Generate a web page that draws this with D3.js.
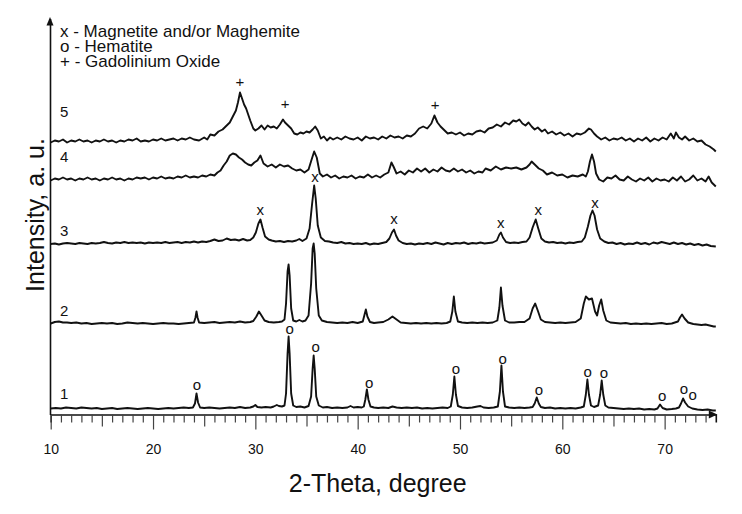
<!DOCTYPE html>
<html>
<head>
<meta charset="utf-8">
<script src="https://cdn.jsdelivr.net/npm/d3@7"></script>
<style>
  html, body { margin: 0; padding: 0; background: #fff; }
  svg { display: block; font-family: "Liberation Sans", Arial, Helvetica, sans-serif; }
</style>
</head>
<body>
<svg id="chart" width="742" height="514"></svg>
<script>
// ---------- data (2-Theta in degree, intensity in a.u. above each curve's own baseline) ----------
const sampleNames = ["1", "2", "3", "4", "5"];
const sampleOffsets = [6, 91, 171, 235, 272];

const sample1 = [[10,0],[10.5,0.5],[11,0],[11.5,1],[12,0.5],[12.5,0],[13,1],[13.5,0.5],[14,0],[14.5,0.5],[15,-0.5],[15.5,0],[16,0.5],[16.5,-0.5],[17,0],[17.5,0.5],[18,0],[18.5,-0.5],[19,0],[19.5,0.5],[20,0],[20.5,-0.5],[21,0],[21.5,0.5],[22,0],[22.5,0.5],[23,1],[23.5,0.5],[23.9,1],[24.1,5],[24.25,15],[24.4,6],[24.6,1],[25,0.5],[25.5,1],[26,0.5],[26.5,0],[27,0.5],[27.5,1],[28,0.5],[28.5,1.5],[29,0.5],[29.5,1],[29.8,2],[30,3.5],[30.2,1.5],[30.6,1],[31,1.5],[31.5,1],[31.8,2],[32.1,3.5],[32.3,2.5],[32.6,2],[32.85,3],[33.0,15],[33.15,55],[33.25,72],[33.35,55],[33.5,15],[33.7,3],[34.0,1.5],[34.4,2],[34.8,1],[35.2,2.5],[35.45,12],[35.6,40],[35.7,53],[35.8,40],[35.95,12],[36.2,3],[36.6,1],[37,1.5],[37.5,0.5],[38,1],[38.5,0.5],[39,1],[39.3,2.5],[39.6,1],[40,1.5],[40.4,1],[40.6,2],[40.75,9],[40.9,19],[41.05,9],[41.25,2],[41.6,1],[42,0.5],[42.5,1],[43,0.5],[43.4,2],[43.8,1],[44.3,0.5],[44.8,1],[45.3,0.5],[45.8,1],[46.3,0],[46.8,0.5],[47.3,0],[47.8,0.5],[48.3,1],[48.8,0.5],[49.1,2],[49.3,14],[49.45,32],[49.6,14],[49.8,2.5],[50.2,1],[50.7,0.5],[51.2,1],[51.7,2],[52,2.5],[52.3,1],[52.8,0.5],[53.3,1],[53.7,2],[53.9,17],[54.05,43],[54.2,17],[54.4,2],[54.8,1],[55.3,0.5],[55.8,1],[56.3,0.5],[56.8,1],[57.1,1.5],[57.3,5],[57.5,11],[57.7,5],[57.9,1.5],[58.3,0.5],[58.8,1],[59.3,0],[59.8,0.5],[60.3,0],[60.8,0.5],[61.3,0],[61.8,1],[62.1,2],[62.3,14],[62.45,29],[62.6,14],[62.8,3],[63.1,1.5],[63.5,3],[63.7,14],[63.85,28],[64.0,14],[64.2,3],[64.5,1],[65,0.5],[65.5,0],[66,-0.5],[66.5,0],[67,-0.5],[67.5,0],[68,-1],[68.5,-0.5],[69,-1],[69.3,0],[69.55,4],[69.8,0.5],[70.2,-1],[70.7,-0.5],[71.1,0],[71.4,1],[71.6,5],[71.8,10],[72.0,6],[72.3,2],[72.7,0],[73.2,-1],[73.7,-1.5],[74.2,-1],[74.7,-2],[75,-2]];

const sample2 = [[10,0],[10.4,1.5],[10.8,2],[11.2,1],[11.6,1],[12,0.5],[12.5,1],[13,0],[13.5,0.5],[14,-0.5],[14.5,0],[15,0.5],[15.5,0],[16,0.5],[16.5,-0.5],[17,0],[17.5,1],[18,0.5],[18.5,0],[19,0.5],[19.5,0],[20,-0.5],[20.5,0],[21,0.5],[21.5,0],[22,0],[22.5,-0.5],[23,0],[23.5,0.5],[24.0,1],[24.15,6],[24.25,12],[24.35,6],[24.5,1],[25,0.5],[25.5,1],[26,1.5],[26.5,0.5],[27,1],[27.5,1.5],[28,1],[28.5,2],[29,1],[29.5,1.5],[29.8,2.5],[30.1,7],[30.35,12],[30.6,8],[30.9,3],[31.3,1.5],[31.8,1],[32.3,1.5],[32.6,2],[32.85,4],[33.0,20],[33.15,52],[33.25,59],[33.35,48],[33.5,15],[33.7,3],[34.0,2],[34.3,3.5],[34.6,2],[34.9,3],[35.2,8],[35.45,40],[35.6,75],[35.7,80],[35.8,70],[35.95,35],[36.2,8],[36.5,3],[37,1.5],[37.5,1],[38,0.5],[38.5,1],[39,0.5],[39.5,1.5],[40,0.5],[40.5,2],[40.65,8],[40.8,14],[40.95,7],[41.2,1.5],[41.6,0.5],[42,1],[42.5,1.5],[43.0,4],[43.4,7],[43.8,4],[44.2,1],[44.7,0.5],[45.2,0],[45.7,0.5],[46.2,0],[46.7,0.5],[47.2,0],[47.7,0.5],[48.2,0],[48.7,0.5],[49.05,2],[49.25,12],[49.4,27],[49.55,12],[49.8,2],[50.2,1],[50.7,0.5],[51.2,1],[51.7,0.5],[52.2,1],[52.7,0.5],[53.2,1],[53.65,3],[53.85,16],[54.0,36],[54.15,18],[54.4,3],[54.8,1],[55.3,1],[55.8,1.5],[56.3,1.5],[56.8,5],[57.1,15],[57.35,20],[57.6,13],[57.9,4],[58.3,1.5],[58.8,1],[59.3,0.5],[59.8,1],[60.3,0.5],[60.8,1],[61.3,1.5],[61.8,5],[62.1,20],[62.3,27],[62.6,24],[62.9,25],[63.2,12],[63.4,8],[63.6,18],[63.8,24],[64.0,13],[64.3,3],[64.7,1],[65.2,0.5],[65.7,0],[66.2,0.5],[66.7,-0.5],[67.2,0],[67.7,-0.5],[68.2,0],[68.7,-0.5],[69.2,0],[69.7,0.5],[70.2,-0.5],[70.7,0],[71.0,1],[71.3,2],[71.5,6],[71.7,9],[71.95,5],[72.3,1],[72.8,-0.5],[73.2,-1],[73.6,-1.5],[74.0,-1],[74.4,-2],[74.8,-3],[75,-3]];

const sample3 = [[10,-0.5],[10.4,0],[10.8,-1],[11.2,0],[11.6,0.5],[12,0],[12.4,-0.5],[12.8,0.5],[13.2,0],[13.6,-0.5],[14,0.5],[14.4,0],[14.8,0.5],[15.2,1.5],[15.6,0.5],[16,0],[16.4,1],[16.8,0.5],[17.2,1.5],[17.6,0.5],[18,1],[18.4,0.5],[18.8,1],[19.2,0],[19.6,1],[20,0.5],[20.4,1],[20.8,0.5],[21.2,1.5],[21.6,0.5],[22,1],[22.4,1.5],[22.8,0.5],[23.2,1.5],[23.6,1],[24,2],[24.4,1],[24.8,2],[25.2,1.5],[25.6,2.5],[26,4],[26.4,2.5],[26.8,3],[27.2,5],[27.6,3.5],[28,4],[28.4,3],[28.8,4.5],[29.2,3],[29.5,3.5],[29.8,6],[30.05,11],[30.3,20],[30.5,24],[30.7,16],[30.95,7],[31.3,4],[31.6,3],[32,2],[32.4,2.5],[32.8,1.5],[33.2,2.5],[33.6,2],[34.0,3],[34.3,4.5],[34.6,2.5],[35.0,5],[35.3,15],[35.55,40],[35.75,58],[35.9,45],[36.1,18],[36.4,6],[36.8,2.5],[37.2,2],[37.6,1],[38.0,0.5],[38.4,1.5],[38.8,0],[39.2,0.5],[39.6,-0.5],[40,0],[40.4,-0.5],[40.8,0.5],[41.2,-1],[41.6,0],[42,-0.5],[42.4,0.5],[42.8,1.5],[43.1,5],[43.35,11],[43.55,14],[43.75,8],[44.0,3],[44.4,0.5],[44.8,-0.5],[45.2,0],[45.6,-1],[46,0],[46.4,-0.5],[46.8,0.5],[47.2,-0.5],[47.6,1],[48,0],[48.4,-1],[48.8,0.5],[49.2,-0.5],[49.6,0.5],[50,0],[50.4,1],[50.8,-0.5],[51.2,0.5],[51.6,0],[52,1],[52.4,0],[52.8,0.5],[53.2,1],[53.6,3],[53.85,9],[54.0,11],[54.2,6],[54.5,1.5],[54.9,0.5],[55.3,1],[55.7,0.5],[56.1,1.5],[56.5,2],[56.8,6],[57.1,16],[57.4,24],[57.65,15],[57.95,5],[58.3,2],[58.7,1],[59.1,1.5],[59.5,0.5],[59.9,1],[60.3,0],[60.7,1],[61.1,0.5],[61.5,1.5],[61.9,2],[62.2,6],[62.5,17],[62.75,28],[62.95,33],[63.15,28],[63.4,14],[63.7,5],[64.1,2],[64.5,0.5],[64.9,1],[65.3,-0.5],[65.7,0.5],[66.1,-1],[66.5,0],[66.9,-0.5],[67.3,1],[67.7,-0.5],[68.1,0.5],[68.5,-1],[68.9,1],[69.3,0],[69.7,1.5],[70.1,0.5],[70.5,-0.5],[70.9,1],[71.3,-0.5],[71.7,0.5],[72.1,-1],[72.5,0],[72.9,-1.5],[73.3,-0.5],[73.7,-2],[74.1,-1],[74.5,-2.5],[75,-3]];

const sample4 = [[10,-1],[10.4,1],[10.8,0],[11.2,2],[11.6,0],[12,1],[12.4,-1],[12.8,1],[13.2,0],[13.6,2],[14,0],[14.4,1],[14.8,-1],[15.2,1],[15.6,0],[16,2],[16.4,0],[16.8,1],[17.2,-1],[17.6,1],[18,0],[18.4,2],[18.8,1],[19.2,2],[19.6,0],[20,2],[20.4,1],[20.8,3],[21.2,1],[21.6,2],[22,1],[22.4,3],[22.8,2],[23.2,4],[23.6,2],[24,3],[24.4,2],[24.8,4],[25.2,3],[25.6,5],[26,4],[26.3,7],[26.6,9],[26.9,14],[27.2,18],[27.5,24],[27.8,26],[28.1,25],[28.4,22],[28.7,20],[29.0,17],[29.3,15],[29.6,14],[29.9,17],[30.2,19],[30.5,24],[30.8,16],[31.2,13],[31.6,15],[32,12],[32.4,15],[32.8,13],[33.2,14],[33.6,11],[34,9],[34.4,10],[34.8,7],[35.2,10],[35.5,20],[35.75,28],[36.0,22],[36.3,6],[36.6,3],[37,5],[37.4,2],[37.8,4],[38.2,1],[38.6,3],[39,2],[39.4,4],[39.8,1],[40.2,3],[40.6,2],[41,5],[41.4,2],[41.8,4],[42.2,2],[42.6,5],[43.0,7],[43.3,17],[43.5,13],[43.8,6],[44.2,8],[44.6,5],[45,9],[45.4,7],[45.8,11],[46.2,8],[46.6,11],[47,7],[47.4,10],[47.8,8],[48.2,12],[48.6,9],[49,8],[49.4,11],[49.8,8],[50.2,10],[50.6,7],[51,9],[51.4,6],[51.8,8],[52.2,7],[52.5,11],[53,9],[53.5,13],[54,10],[54.5,12],[55,11],[55.5,12],[56,10],[56.5,12],[56.8,15],[57.0,18],[57.3,15],[57.7,11],[58.1,9],[58.5,5],[59,7],[59.5,4],[60,5],[60.5,2],[61,4],[61.5,3],[62,5],[62.3,3],[62.5,8],[62.7,18],[62.9,25],[63.1,18],[63.3,6],[63.6,0],[64,-2],[64.4,2],[64.8,1],[65.2,4],[65.6,0],[66,-1],[66.4,3],[66.8,0],[67.2,-2],[67.6,1],[68,-1],[68.4,2],[68.8,-2],[69.2,1],[69.6,-1],[70,0],[70.4,-2],[70.8,2],[71.2,-1],[71.6,3],[72,-2],[72.4,0],[72.8,4],[73.2,-1],[73.6,1],[74,-2],[74.3,3],[74.6,-3],[75,-7]];

const sample5 = [[10,0],[10.4,2],[10.8,1],[11.2,3],[11.6,0],[12,2],[12.4,1],[12.8,3],[13.2,1],[13.6,2],[14,0],[14.4,2],[14.8,1],[15.2,3],[15.6,1],[16,2],[16.4,0],[16.8,2],[17.2,1],[17.6,3],[18,2],[18.4,4],[18.8,1],[19.2,2],[19.6,1],[20,3],[20.4,2],[20.8,4],[21.2,2],[21.6,3],[22,4],[22.4,2],[22.8,4],[23.2,3],[23.6,5],[24,3],[24.5,2],[25,5],[25.3,3],[25.6,8],[26,7],[26.4,11],[26.8,13],[27.2,17],[27.5,20],[27.8,26],[28.1,32],[28.3,40],[28.5,50],[28.7,44],[28.9,38],[29.1,34],[29.3,28],[29.5,22],[29.8,14],[30.0,12],[30.3,14],[30.6,17],[30.9,13],[31.2,17],[31.5,15],[31.8,16],[32.1,14],[32.4,18],[32.7,23],[32.9,20],[33.2,17],[33.5,14],[33.8,9],[34.1,8],[34.4,10],[34.7,9],[35.0,11],[35.3,10],[35.6,13],[35.85,16],[36.1,12],[36.4,4],[36.7,6],[37.0,2],[37.3,5],[37.6,3],[38.0,5],[38.4,3],[38.8,6],[39.2,4],[39.6,3],[40.0,5],[40.4,2],[40.8,6],[41.2,4],[41.6,5],[42.0,3],[42.4,6],[42.8,4],[43.2,7],[43.6,5],[44.0,6],[44.4,4],[44.8,7],[45.2,6],[45.6,9],[46.0,14],[46.4,16],[46.8,14],[47.2,19],[47.5,27],[47.8,20],[48.1,16],[48.4,13],[48.8,9],[49.2,10],[49.6,8],[50.0,10],[50.4,7],[50.8,9],[51.2,8],[51.6,11],[52.0,12],[52.4,10],[52.8,14],[53.2,15],[53.6,18],[54.0,16],[54.4,20],[54.8,18],[55.2,22],[55.5,21],[55.8,23],[56.1,19],[56.4,17],[56.7,20],[57.0,16],[57.3,13],[57.6,15],[58.0,11],[58.3,13],[58.6,9],[59.0,11],[59.4,8],[59.8,10],[60.2,7],[60.6,9],[61.0,6],[61.4,9],[61.8,8],[62.2,10],[62.6,14],[62.8,13],[63.1,9],[63.4,6],[63.8,3],[64.2,5],[64.6,2],[65.0,4],[65.4,3],[65.8,5],[66.2,2],[66.6,4],[67.0,1],[67.4,4],[67.8,2],[68.2,5],[68.6,1],[69.0,4],[69.4,2],[69.8,5],[70.2,3],[70.6,9],[70.9,4],[71.1,10],[71.4,5],[71.7,3],[72.0,6],[72.4,2],[72.8,4],[73.2,1],[73.6,2],[74.0,-2],[74.4,-4],[74.8,-7],[75.0,-9]];

// phase markers: [2-Theta, level in a.u. on the stacked scale]
const hematiteMarks  = [[24.3,28.5],[33.36,84.5],[35.9,67],[41.13,31],[49.6,44.5],[54.17,55],[57.72,24],[62.48,42],[64.07,41],[69.77,17.5],[71.89,24.5],[72.74,19]];
const magnetiteMarks = [[30.49,204],[35.83,237],[43.55,194.5],[53.98,191],[57.65,203.5],[63.19,211]];
const gdOxideMarks   = [[28.5,332.5],[32.9,311],[47.56,310]];

const legendLines = ["x - Magnetite and/or Maghemite", "o - Hematite", "+ - Gadolinium Oxide"];
const xTicksMajor = [10, 20, 30, 40, 50, 60, 70];
const xLabel = "2-Theta, degree";
const yLabel = "Intensity, a. u.";

// ---------- layout ----------
const series = [sample1, sample2, sample3, sample4, sample5];
const labelLift = [9.5, 7.5, 7.5, 17.5, 25.5];

const svg = d3.select("#chart");
const x = d3.scaleLinear().domain([10, 75]).range([50.7, 715.8]);
const y = d3.scaleLinear().domain([0, 396]).range([414.5, 18.5]);
const ink = "#111";

// x axis
const xAxis = d3.axisBottom(x)
  .tickValues(d3.range(10, 75, 1))
  .tickSizeOuter(0)
  .tickSize(8)
  .tickFormat(d => xTicksMajor.includes(d) ? String(d) : "");
const gx = svg.append("g").attr("transform", `translate(0,${y(0)})`).call(xAxis);
gx.select(".domain").attr("stroke", ink).attr("stroke-width", 1.6);
gx.selectAll(".tick line")
  .attr("stroke", "#444").attr("stroke-width", 1.2)
  .attr("y2", d => d % 10 === 0 ? 15 : (d % 5 === 0 ? 12 : 8));
gx.selectAll(".tick text")
  .attr("y", 29.5).attr("dy", "0.71em")
  .attr("font-size", 14).attr("fill", ink)
  .attr("font-family", "Liberation Sans, Arial, sans-serif");
// x arrow head
svg.append("path")
  .attr("d", `M${x(75) + 1.5},${y(0)} L${x(75) - 7},${y(0) - 4} L${x(75) - 7},${y(0) + 4} Z`)
  .attr("fill", ink);

// y axis (no ticks)
const yAxis = d3.axisLeft(y).tickValues([]).tickSizeOuter(0);
const gy = svg.append("g").attr("transform", `translate(${x(10) - 0.7},0)`).call(yAxis);
gy.select(".domain").attr("stroke", ink).attr("stroke-width", 1.6);
svg.append("path")
  .attr("d", `M${x(10) - 0.7},${y(396) - 1.5} L${x(10) - 4.2},${y(396) + 7} L${x(10) + 2.8},${y(396) + 7} Z`)
  .attr("fill", ink);

// axis titles
svg.append("text")
  .attr("x", 377.7).attr("y", 491.5)
  .attr("text-anchor", "middle")
  .attr("font-size", 25).attr("fill", ink)
  .text(xLabel);
svg.append("text")
  .attr("transform", "translate(43.5,215) rotate(-90)")
  .attr("text-anchor", "middle")
  .attr("font-size", 25).attr("fill", ink)
  .text(yLabel);

// traces
const line = d3.line().x(d => x(d[0]));
series.forEach((s, i) => {
  svg.append("path")
    .datum(s)
    .attr("fill", "none")
    .attr("stroke", ink)
    .attr("stroke-width", 1.9)
    .attr("stroke-linejoin", "round")
    .attr("d", line.y(d => y(sampleOffsets[i] + d[1])));
  svg.append("text")
    .attr("x", x(10.9)).attr("y", y(sampleOffsets[i] + labelLift[i]))
    .attr("font-size", 15).attr("fill", ink)
    .text(sampleNames[i]);
});

// phase markers
function marks(data, glyph, dy) {
  svg.append("g").selectAll("text").data(data).join("text")
    .attr("x", d => x(d[0])).attr("y", d => y(d[1]))
    .attr("dy", dy)
    .attr("text-anchor", "middle")
    .attr("font-size", 15).attr("fill", ink)
    .text(glyph);
}
marks(hematiteMarks, "o", "0.27em");
marks(magnetiteMarks, "x", "0.27em");
marks(gdOxideMarks, "+", "0.34em");

// legend
svg.append("g").selectAll("text").data(legendLines).join("text")
  .attr("x", 60).attr("y", (d, i) => 36.7 + i * 15)
  .attr("font-size", 17).attr("fill", ink)
  .text(d => d);
</script>
</body>
</html>
